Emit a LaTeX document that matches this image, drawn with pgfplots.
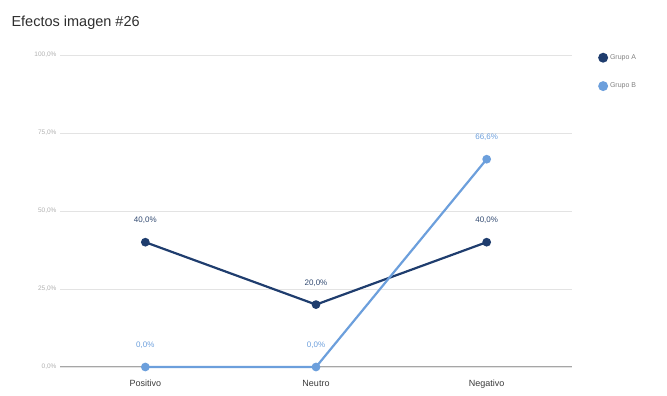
\documentclass[border=0pt]{standalone}
\usepackage{pgfplots}
\pgfplotsset{compat=1.18}
\usepackage{fontspec}
\setmainfont{Liberation Sans}
\definecolor{grpA}{HTML}{1F3D6E}
\definecolor{grpB}{HTML}{6C9FDC}
\definecolor{gridc}{HTML}{E3E3E3}
\definecolor{ticktxt}{HTML}{B0B0B0}
\definecolor{cattxt}{HTML}{3A3A3A}
\begin{document}
\begin{tikzpicture}[x=1pt,y=1pt]
\path[use as bounding box] (0,0) rectangle (667,396);
\node[anchor=west,font=\fontsize{14.5}{16}\selectfont,text=black!82] at (8,373) {Efectos imagen \#26};
\begin{axis}[
  at={(60pt,29pt)}, anchor=south west,
  scale only axis, width=512pt, height=312pt,
  xmin=-0.5, xmax=2.5, ymin=0, ymax=100,
  xtick={0,1,2}, xticklabels={Positivo,Neutro,Negativo},
  ytick={0,25,50,75,100},
  /pgf/number format/assume math mode=true,
  yticklabel={\pgfmathprintnumber[fixed,fixed zerofill,precision=1,use comma]{\tick}\%},
  yticklabel style={font=\fontsize{6.5}{7}\selectfont, text=ticktxt},
  xticklabel style={font=\fontsize{9}{10}\selectfont, text=cattxt, yshift=-9pt,
    text height=7pt, text depth=2pt},
  ymajorgrids, grid style={gridc, line width=0.8pt},
  axis line style={draw=none},
  axis x line*=bottom, axis y line*=left,
  major tick length=0pt,
  clip=false,
  legend style={at={(1.045,1.015)}, anchor=north west, draw=none, fill=none,
    font=\fontsize{7}{8}\selectfont, text=gray, row sep=18pt,
    legend cell align=left},
  legend image code/.code={\fill[#1] (0.15cm,0cm) circle (3.8pt);},
  nodes near coords={\pgfmathprintnumber[fixed,fixed zerofill,precision=1,use comma]{\pgfplotspointmeta}\%},
  nodes near coords style={font=\fontsize{8}{9}\selectfont, yshift=14pt},
]
\draw[gray!70, line width=1pt] (axis cs:-0.5,0) -- (axis cs:2.5,0);
\addplot[grpA, line width=2.2pt, mark=*, mark size=3.2pt,
  nodes near coords style={text=grpA!80!gray}]
  coordinates {(0,40) (1,20) (2,40)};
\addlegendentry{Grupo A}
\addplot[grpB, line width=2.2pt, mark=*, mark size=3.2pt,
  nodes near coords style={text=grpB}]
  coordinates {(0,0) (1,0) (2,66.6)};
\addlegendentry{Grupo B}
\end{axis}
\end{tikzpicture}
\end{document}
